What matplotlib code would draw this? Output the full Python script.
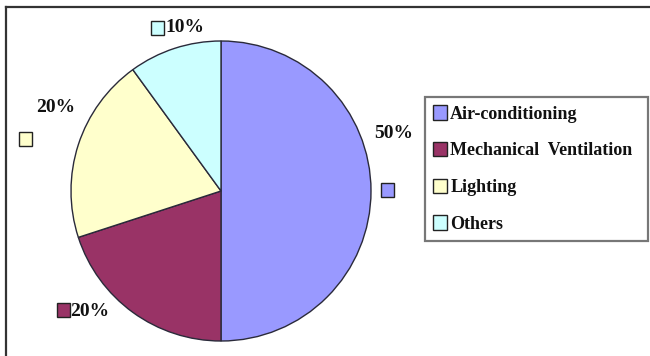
import matplotlib
matplotlib.use("Agg")
import matplotlib.pyplot as plt
from matplotlib.patches import Patch, Rectangle
from matplotlib.lines import Line2D

categories = ["Air-conditioning", "Mechanical  Ventilation", "Lighting", "Others"]
values = [50, 20, 20, 10]
labels = ["50%", "20%", "20%", "10%"]
colors = ["#9999FF", "#993366", "#FFFFCC", "#CCFFFF"]

W, H = 650, 356
fig = plt.figure(figsize=(W / 100, H / 100), dpi=100)
fig.patch.set_facecolor("white")

def px(x, y):
    return x / W, 1 - y / H

# pie axes: center (221,191), radius 150 px
cx, cy, r = 221, 191, 150
ax = fig.add_axes([(cx - r) / W, (H - cy - r) / H, 2 * r / W, 2 * r / H])
ax.pie(values, colors=colors, startangle=90, counterclock=False,
       wedgeprops=dict(edgecolor="#2a2a3a", linewidth=1.0))
ax.set_xlim(-1, 1)
ax.set_ylim(-1, 1)
ax.set_aspect("equal")
ax.axis("off")

serif = ["Liberation Serif", "DejaVu Serif"]
font = dict(family=serif, fontweight="bold", fontsize=14)

# data labels: marker square centre, text left/centre position
label_layout = [
    ((387, 190), (374, 134)),
    ((63, 310), (70, 311)),
    ((25, 139), (36, 107)),
    ((157, 28), (165, 28)),
]
for (m, t), lab, col in zip(label_layout, labels, colors):
    mx, my = px(*m)
    fig.add_artist(Rectangle((mx - 6.5 / W, my - 7 / H), 13 / W, 14 / H,
                             transform=fig.transFigure, facecolor=col,
                             edgecolor="#222222", linewidth=1.0))
    tx, ty = px(*t)
    fig.text(tx, ty, lab, ha="left", va="center", color="#111111", **font)

# legend
handles = [Patch(facecolor=c, edgecolor="#222222", linewidth=1.0) for c in colors]
lx0, ly0 = px(425, 240)
lx1, ly1 = px(648, 98)
leg = fig.legend(handles, categories, loc="center left",
                 bbox_to_anchor=(lx0, ly0, lx1 - lx0, ly1 - ly0),
                 mode="expand", prop=dict(family=serif, weight="bold", size=13),
                 frameon=True, fancybox=False, borderaxespad=0,
                 handlelength=0.75, handleheight=0.85, handletextpad=0.2,
                 labelspacing=1.07, borderpad=0.45)
leg.get_frame().set_edgecolor("#555555")
leg.get_frame().set_linewidth(1.6)
for t in leg.get_texts():
    t.set_color("#111111")

# outer border (top and left)
fig.add_artist(Line2D([5.5 / W, 5.5 / W], [0, 1 - 6.5 / H], transform=fig.transFigure,
                      color="#333333", linewidth=1.6))
fig.add_artist(Line2D([5.5 / W, 1], [1 - 6.5 / H, 1 - 6.5 / H], transform=fig.transFigure,
                      color="#333333", linewidth=1.6))

fig.savefig("out.png", dpi=100)
